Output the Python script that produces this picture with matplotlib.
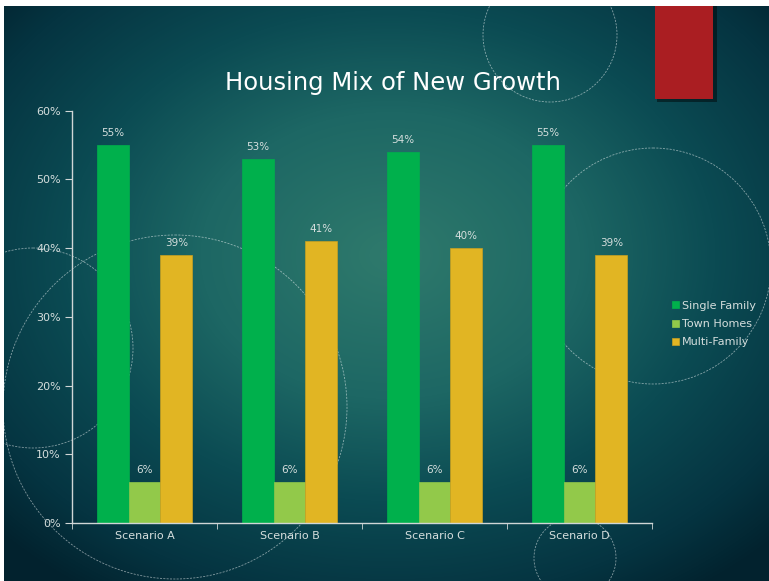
import numpy as np
import matplotlib
matplotlib.use("Agg")
import matplotlib.pyplot as plt
from matplotlib.patches import Circle, Rectangle
from matplotlib.colors import LinearSegmentedColormap

categories = ["Scenario A", "Scenario B", "Scenario C", "Scenario D"]
series_names = ["Single Family", "Town Homes", "Multi-Family"]
single_family = [55, 53, 54, 55]
town_homes = [6, 6, 6, 6]
multi_family = [39, 41, 40, 39]
y_ticks = [0, 10, 20, 30, 40, 50, 60]
title = "Housing Mix of New Growth"

colors = ["#00B04C", "#92C94A", "#E1B523"]
text_col = "#D5DEDD"
axis_col = "#D0D6D6"

W, H = 769, 581
fig = plt.figure(figsize=(W / 100, H / 100), dpi=100, facecolor="white")

# background panel (pixel coordinates)
bg = fig.add_axes([4 / W, 0, 1 - 4 / W, 1 - 6 / H], zorder=0)
bg.set_xlim(4, W)
bg.set_ylim(H, 6)
bg.axis("off")
yy, xx = np.mgrid[6:H, 4:W]
cx, cy = 390, 255
d = np.sqrt(((xx - cx) / 450.0) ** 2 + ((yy - cy) / 340.0) ** 2)
d = np.clip(d, 0, 1.2) / 1.2
cmap = LinearSegmentedColormap.from_list(
    "bg", [(0, "#2F7A6C"), (0.35, "#1D6764"), (0.6, "#0B4B53"), (0.85, "#053441"), (1.0, "#02222E")])
bg.imshow(d, cmap=cmap, extent=(4, W, H, 6), aspect="auto", interpolation="bilinear", zorder=0)

circles = [(550, 35, 67), (653, 266, 118), (175, 407, 172), (33, 348, 100), (575, 558, 41)]
for (x0, y0, r) in circles:
    bg.add_patch(Circle((x0, y0), r, fill=False, edgecolor="white", alpha=0.5,
                        linewidth=0.6, linestyle=(0, (2.5, 1.5)), zorder=2))

# red rectangle with shadow
bg.add_patch(Rectangle((657, 6), 60, 96, facecolor="black", alpha=0.45, zorder=3))
bg.add_patch(Rectangle((655, 6), 58, 93, facecolor="#AA1E22", zorder=4))

fig.text(393 / W, 1 - 83 / H, title, ha="center", va="center", color="white",
         fontsize=17.5, family="DejaVu Sans", zorder=5)

# main chart
ax = fig.add_axes([72 / W, 1 - 523 / H, (652 - 72) / W, (523 - 110.7) / H], zorder=1)
ax.patch.set_alpha(0)
x = np.arange(len(categories))
width = 0.22
data = [single_family, town_homes, multi_family]
for i, (vals, c, name) in enumerate(zip(data, colors, series_names)):
    bars = ax.bar(x + (i - 1) * width, vals, width, color=c, label=name,
                  edgecolor=c if i != 2 else "#C9A020", linewidth=0.5)
    for b, v in zip(bars, vals):
        ax.text(b.get_x() + b.get_width() / 2, v + 1.0, f"{v}%", ha="center", va="bottom",
                color=text_col, fontsize=7.5)

ax.set_xlim(-0.5, len(categories) - 0.5)
ax.set_ylim(0, 60)
ax.set_yticks(y_ticks)
ax.set_yticklabels([f"{t}%" for t in y_ticks])
ax.set_xticks(x)
ax.set_xticklabels(categories)
ax.set_xticks(np.arange(len(categories) + 1) - 0.5, minor=True)
ax.tick_params(axis="x", which="major", length=0, colors=text_col, labelsize=8, pad=6)
ax.tick_params(axis="x", which="minor", length=4, color=axis_col, direction="out")
ax.tick_params(axis="y", length=5, color=axis_col, labelcolor=text_col, labelsize=8, pad=3)
for s in ["top", "right"]:
    ax.spines[s].set_visible(False)
for s in ["left", "bottom"]:
    ax.spines[s].set_color(axis_col)
    ax.spines[s].set_linewidth(1.0)

leg = ax.legend(loc="center left", bbox_to_anchor=(662 / W, 1 - 324 / H),
                bbox_transform=fig.transFigure, frameon=False, fontsize=8,
                handlelength=0.6, handleheight=0.6, handletextpad=0.3, labelspacing=0.75)
for t in leg.get_texts():
    t.set_color(text_col)

fig.savefig("out.png", dpi=100, facecolor="white")
